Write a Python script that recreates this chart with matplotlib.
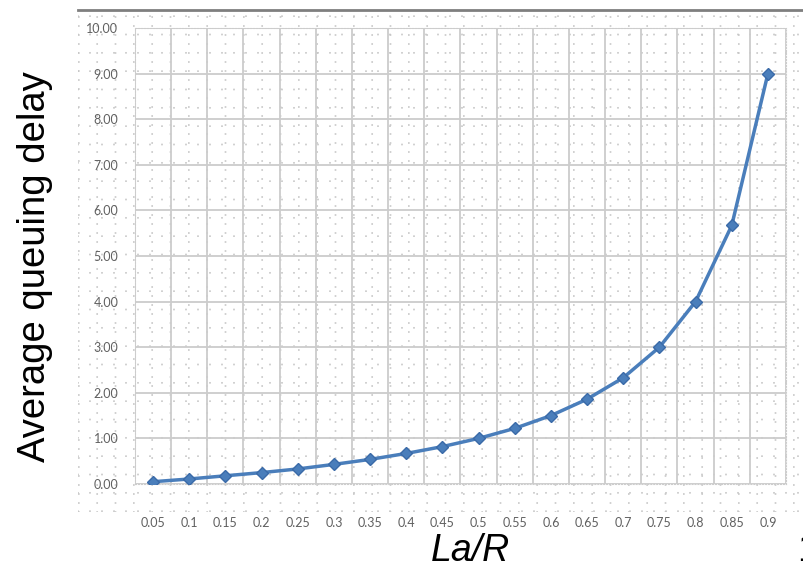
import numpy as np
from matplotlib import pyplot as plt
from matplotlib.ticker import MultipleLocator

# load ratio La/R and the average queuing delay
la_r = ["0.05", "0.1", "0.15", "0.2", "0.25", "0.3", "0.35", "0.4", "0.45",
        "0.5", "0.55", "0.6", "0.65", "0.7", "0.75", "0.8", "0.85", "0.9"]
delay = [0.05, 0.11, 0.18, 0.25, 0.33, 0.43, 0.54, 0.67, 0.82,
         1.00, 1.22, 1.50, 1.86, 2.33, 3.00, 4.00, 5.67, 9.00]
y_ticks = [0, 1, 2, 3, 4, 5, 6, 7, 8, 9, 10]

W, H = 804, 568
fig = plt.figure(figsize=(W / 100, H / 100), dpi=100)

# dotted slide background
bg = fig.add_axes([78 / W, 1 - 512 / H, 1 - 78 / W, (512 - 14) / H])
bg.set_xlim(0, W - 78)
bg.set_ylim(0, 512 - 14)
bg.xaxis.set_major_locator(MultipleLocator(12))
bg.yaxis.set_major_locator(MultipleLocator(9))
bg.grid(True, color="#c4c4c4", linestyle=(0, (1.1, 10.9)), linewidth=1.1)
bg.tick_params(length=0, labelbottom=False, labelleft=False)
for s in bg.spines.values():
    s.set_visible(False)
bg.patch.set_alpha(0)

# dark rule at the top of the slide area
fig.add_artist(plt.Line2D([78 / W, 1], [1 - 10 / H, 1 - 10 / H],
                          color="#7f7f7f", linewidth=2))

ax = fig.add_axes([135 / W, 1 - 484 / H, (786 - 135) / W, (484 - 28) / H])
ax.patch.set_alpha(0)
x = np.arange(len(la_r))
ax.plot(x, delay, color="#4a7ebb", linewidth=2.5, marker="D", markersize=6,
        markerfacecolor="#4a7ebb", markeredgecolor="#3a6aa8", zorder=3)

ax.set_xlim(-0.5, len(la_r) - 0.5)
ax.set_ylim(0, 10)
ax.set_xticks(x)
ax.set_xticklabels(la_r)
ax.set_xticks(np.arange(-0.5, len(la_r), 1), minor=True)
ax.set_yticks(y_ticks)
ax.set_yticklabels(["%.2f" % v for v in y_ticks])
ax.grid(True, which="minor", axis="x", color="#cccccc", linewidth=1.3)
ax.grid(True, which="major", axis="y", color="#cccccc", linewidth=1.3)
ax.tick_params(which="both", length=0)
ax.tick_params(axis="x", pad=24, labelsize=9, labelcolor="#606060")
ax.tick_params(axis="y", pad=12, labelsize=9, labelcolor="#606060")
for t in ax.get_xticklabels() + ax.get_yticklabels():
    t.set_family("Lato")
for s in ax.spines.values():
    s.set_color("#cccccc")
    s.set_linestyle(":")

fig.text(35 / W, 1 - 267 / H, "Average queuing delay", rotation=90,
         ha="center", va="center", fontsize=27.5, family="Liberation Sans")
fig.text(470 / W, 1 - 551 / H, "La/R", ha="center", va="center",
         fontsize=27, style="italic", family="Liberation Sans")
fig.text(797 / W, 1 - 551 / H, "1", ha="left", va="center",
         fontsize=27, family="Liberation Sans")

plt.savefig("out.png", dpi=100)
